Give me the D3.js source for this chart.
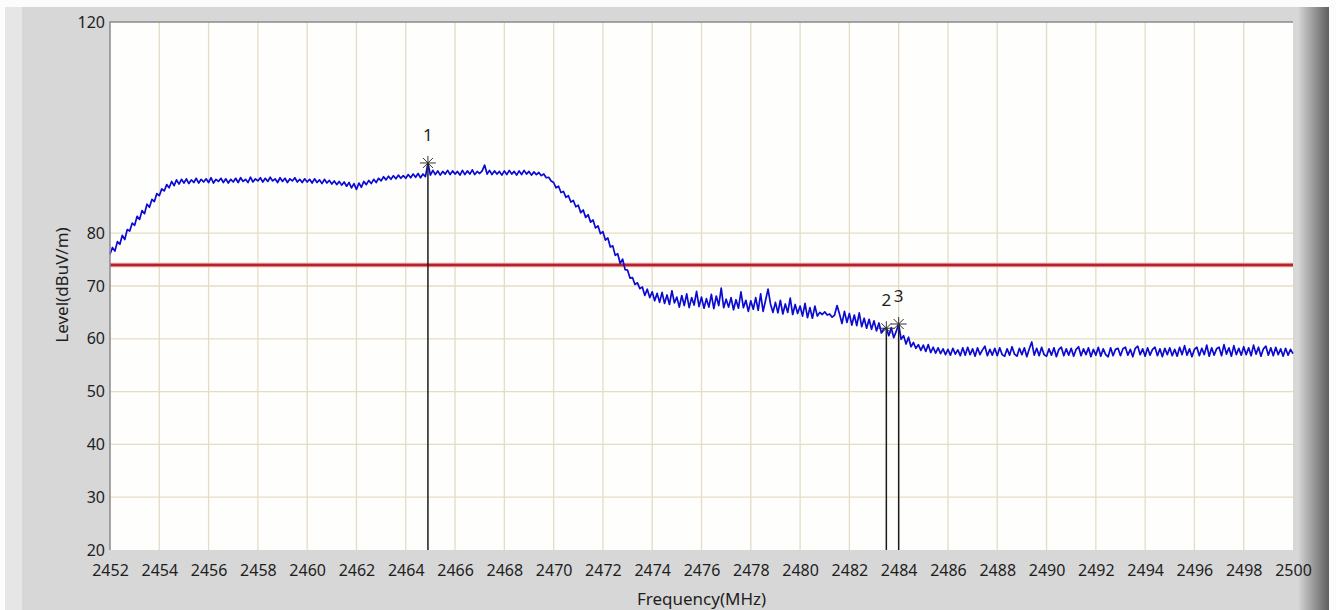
<!DOCTYPE html>
<html>
<head>
<meta charset="utf-8">
<script src="https://cdn.jsdelivr.net/npm/d3@7"></script>
<style>
  body { margin: 0; background: #fff; }
  svg { display: block; }
  text { font-family: "Noto Sans", "DejaVu Sans", sans-serif; fill: #1e1e1e; }
</style>
</head>
<body>
<div id="chart"></div>
<script>
// spectrum trace, one value every 0.1 MHz from 2452 to 2500
var freqStart = 2452, freqStep = 0.1;
var levels = [
  76.0, 77.3, 76.6, 78.4, 77.9, 79.6, 78.8, 80.7, 80.4, 81.9,
  81.5, 83.2, 82.6, 84.3, 83.7, 85.5, 84.9, 86.4, 86.0, 87.5,
  87.1, 88.4, 88.0, 89.2, 88.6, 89.8, 89.0, 90.1, 89.3, 90.2,
  89.5, 90.3, 89.4, 90.1, 89.6, 90.4, 89.5, 90.2, 89.7, 90.3,
  89.6, 90.5, 89.5, 90.2, 89.8, 90.4, 89.6, 90.3, 89.5, 90.2,
  89.7, 90.4, 89.6, 90.5, 89.8, 90.2, 89.6, 90.6, 89.7, 90.3,
  89.9, 90.5, 89.7, 90.4, 89.8, 90.6, 89.9, 90.3, 89.6, 90.5,
  89.8, 90.4, 89.6, 90.3, 89.9, 90.5, 89.7, 90.2, 89.6, 90.3,
  89.7, 90.2, 89.5, 90.3, 89.6, 90.1, 89.4, 90.2, 89.5, 90.0,
  89.3, 89.9, 89.2, 89.8, 89.1, 89.7, 88.9, 89.6, 88.6, 89.4,
  88.3, 89.5, 88.7, 89.8, 89.2, 90.0, 89.4, 90.2, 89.6, 90.4,
  89.9, 90.7, 90.1, 90.8, 90.2, 90.9, 90.3, 91.0, 90.4, 90.9,
  90.4, 91.1, 90.5, 91.2, 90.6, 91.3, 90.5, 91.2, 90.7, 93.3,
  91.0, 91.9, 91.1, 91.8, 91.0, 91.7, 91.2, 91.9, 91.1, 91.8,
  91.2, 91.7, 91.0, 91.9, 91.1, 91.8, 91.2, 92.0, 91.1, 91.7,
  91.3, 91.8, 92.9, 91.2, 91.9, 91.1, 91.8, 91.2, 91.7, 91.0,
  91.8, 91.1, 91.9, 91.2, 91.7, 91.0, 91.8, 91.1, 91.9, 91.2,
  91.7, 91.0, 91.6, 91.1, 91.5, 90.9, 91.2, 90.5, 90.6, 89.9,
  89.6, 88.6, 88.9, 87.7, 87.9, 86.8, 87.1, 85.9, 86.2, 85.0,
  85.3, 83.9, 84.4, 83.0, 83.5, 82.1, 82.5, 81.0, 81.4, 79.9,
  80.3, 78.7, 79.1, 77.4, 77.6, 75.8, 76.1, 74.3, 75.1, 73.1,
  73.0, 71.5, 71.6, 70.3, 70.6, 69.5, 69.8, 68.2, 69.4, 67.8,
  68.9, 67.2, 68.6, 66.9, 68.8, 66.7, 68.3, 66.5, 69.1, 66.8,
  67.9, 66.0, 68.2, 66.3, 68.5, 65.9, 67.8, 66.4, 69.0, 66.1,
  67.9, 65.8, 67.6, 66.0, 68.4, 65.7, 68.1, 66.3, 69.6, 65.9,
  67.5, 66.0, 67.8, 65.5, 67.4, 65.8, 68.9, 65.9, 67.3, 65.2,
  67.2, 65.6, 67.8, 65.4, 68.5, 65.2, 67.3, 69.4, 66.6, 65.0,
  66.9, 64.9, 67.3, 64.7, 66.6, 65.0, 67.7, 64.6, 66.5, 64.8,
  66.2, 64.3, 66.7, 64.0, 65.9, 63.9, 66.2, 64.3, 65.0, 64.6,
  65.1, 64.5, 64.7, 64.1, 64.5, 66.3, 64.7, 62.9, 65.2, 63.1,
  64.8, 62.6, 64.5, 62.5, 64.9, 62.3, 63.9, 62.0, 63.7, 61.8,
  63.4, 61.5, 63.0, 61.1, 61.9, 62.0, 60.6, 62.1, 60.2, 61.4,
  62.8, 59.9, 60.6, 59.0, 60.3, 58.5, 59.3, 58.2, 58.9, 57.8,
  58.8, 57.6, 58.9, 57.4, 58.4, 57.3, 58.3, 57.2, 58.1, 57.0,
  58.0, 56.9, 58.2, 57.1, 57.9, 56.8, 58.3, 56.9, 58.4, 57.0,
  58.1, 56.7, 58.3, 57.0, 57.9, 58.6, 56.8, 58.0, 56.9, 58.2,
  56.8, 58.3, 57.0, 56.7, 58.1, 56.9, 58.5, 57.1, 56.7, 58.2,
  57.0, 58.3, 56.6, 58.1, 59.4, 56.9, 58.2, 56.8, 58.4, 57.0,
  56.7, 58.1, 56.9, 58.3, 56.6, 58.0, 58.4, 56.8, 58.1, 56.9,
  58.2, 56.7, 58.0, 58.5, 56.8, 58.1, 57.0, 58.3, 56.6, 58.0,
  56.9, 58.4, 56.7, 58.1, 57.0, 56.6, 58.3, 56.8, 58.0, 58.2,
  56.8, 58.1, 58.4, 56.9, 58.0, 56.6, 58.2, 58.6, 57.0, 58.1,
  56.7, 58.3, 56.9, 58.0, 58.4, 56.8, 58.1, 56.6, 58.2, 57.0,
  58.3, 56.8, 58.0, 56.7, 58.4, 57.0, 58.7, 56.9, 58.1, 56.6,
  58.0, 58.4, 56.8, 58.2, 57.0, 58.8, 56.7, 58.3, 56.9, 58.1,
  58.4, 56.8, 58.9, 57.1, 58.3, 56.7, 58.7, 57.0, 58.2, 56.9,
  58.5, 57.0, 58.3, 56.8, 58.8, 57.1, 58.4, 56.7, 58.1, 58.6,
  56.9, 58.3, 56.8, 58.4, 57.0, 58.1, 56.7, 58.2, 56.9, 58.0,
  57.2
];

var limitLevel = 74;

var markerIds = ["1", "2", "3"];
var markerFreqs = [2464.9, 2483.5, 2484.0];
var markerLevels = [93.3, 62.0, 62.8];

var xTicks = [2452, 2454, 2456, 2458, 2460, 2462, 2464, 2466, 2468, 2470, 2472, 2474,
  2476, 2478, 2480, 2482, 2484, 2486, 2488, 2490, 2492, 2494, 2496, 2498, 2500];
var yTicks = [20, 30, 40, 50, 60, 70, 80, 120];
var yGrid = [30, 40, 50, 60, 70, 80];

var width = 1336, height = 610;
var plotLeft = 110, plotTop = 22, plotRight = 1293, plotBottom = 550;

var svg = d3.select('#chart')
  .append('svg')
  .attr('width', width)
  .attr('height', height);

var defs = svg.append('defs');
var edge = defs.append('linearGradient').attr('id', 'edge');
edge.append('stop').attr('offset', '0%').attr('stop-color', '#d6d6d6');
edge.append('stop').attr('offset', '100%').attr('stop-color', '#5e5e5e');

// window frame
svg.append('rect').attr('width', width).attr('height', height).attr('fill', '#fcfcfc');
svg.append('rect').attr('x', 5).attr('y', 7).attr('width', 1323).attr('height', 603).attr('fill', '#d7d7d7');
svg.append('rect').attr('x', 5).attr('y', 7).attr('width', 17).attr('height', 603).attr('fill', '#e6e6e6');
svg.append('rect').attr('x', 1298).attr('y', 7).attr('width', 31).attr('height', 603).attr('fill', 'url(#edge)');

var x = d3.scaleLinear().domain([2452, 2500]).range([plotLeft, plotRight]);
var y = d3.scaleLinear().domain([20, 120]).range([plotBottom, plotTop]);

var g = svg.append('g');

g.append('rect')
  .attr('x', plotLeft).attr('y', plotTop)
  .attr('width', plotRight - plotLeft).attr('height', plotBottom - plotTop)
  .attr('fill', '#fefefc');

// grid
g.selectAll('.vgrid')
  .data(xTicks.slice(1, -1))
  .enter()
  .append('line')
  .attr('x1', function(d){return x(d);})
  .attr('x2', function(d){return x(d);})
  .attr('y1', plotTop).attr('y2', plotBottom)
  .attr('stroke', '#e4dcc4')
  .attr('stroke-width', 1.3);

g.selectAll('.hgrid')
  .data(yGrid)
  .enter()
  .append('line')
  .attr('x1', plotLeft).attr('x2', plotRight)
  .attr('y1', function(d){return y(d);})
  .attr('y2', function(d){return y(d);})
  .attr('stroke', '#e4dcc4')
  .attr('stroke-width', 1.3);

// axes
var xAxis = d3.axisBottom(x).tickValues(xTicks).tickSize(0).tickPadding(15).tickFormat(d3.format('d'));
var yAxis = d3.axisLeft(y).tickValues(yTicks).tickSize(0).tickPadding(5);

var xg = svg.append('g').attr('transform', 'translate(0,' + plotBottom + ')').call(xAxis);
xg.select('.domain').remove();
xg.selectAll('text').style('font-size', '16px').attr('fill', '#1e1e1e');

var yg = svg.append('g').attr('transform', 'translate(' + plotLeft + ',0)').call(yAxis);
yg.select('.domain').remove();
yg.selectAll('text').style('font-size', '16px').attr('fill', '#1e1e1e');

// plot border (top and left)
svg.append('path')
  .attr('d', 'M' + plotLeft + ',' + plotBottom + 'V' + plotTop + 'H' + plotRight)
  .attr('fill', 'none')
  .attr('stroke', '#8a8a8a')
  .attr('stroke-width', 1.5);

svg.append('text')
  .attr('x', (plotLeft + plotRight) / 2)
  .attr('y', 605)
  .attr('text-anchor', 'middle')
  .style('font-size', '17px')
  .text('Frequency(MHz)');

svg.append('text')
  .attr('transform', 'translate(68,285) rotate(-90)')
  .attr('text-anchor', 'middle')
  .style('font-size', '17px')
  .text('Level(dBuV/m)');

// limit line
g.append('line')
  .attr('x1', plotLeft).attr('x2', plotRight)
  .attr('y1', y(limitLevel)).attr('y2', y(limitLevel))
  .attr('stroke', '#e9a0a0')
  .attr('stroke-width', 4.5);
g.append('line')
  .attr('x1', plotLeft).attr('x2', plotRight)
  .attr('y1', y(limitLevel)).attr('y2', y(limitLevel))
  .attr('stroke', '#b8202a')
  .attr('stroke-width', 2.5);

// trace
var line = d3.line()
  .x(function(d, i){return x(freqStart + i * freqStep);})
  .y(function(d){return y(d);});

g.append('path')
  .datum(levels)
  .attr('d', line)
  .attr('fill', 'none')
  .attr('stroke', '#0a0ad2')
  .attr('stroke-width', 1.7)
  .attr('stroke-linejoin', 'round');

// markers
var markers = markerIds.map(function(id, i){
  return {id: id, f: markerFreqs[i], v: markerLevels[i]};
});

var mk = g.selectAll('.marker')
  .data(markers)
  .enter()
  .append('g')
  .attr('transform', function(d){return 'translate(' + x(d.f) + ',' + y(d.v) + ')';});

mk.append('line')
  .attr('x1', 0).attr('x2', 0)
  .attr('y1', 0)
  .attr('y2', function(d){return plotBottom - y(d.v);})
  .attr('stroke', '#1a1a1a')
  .attr('stroke-width', 1.5);

mk.append('path')
  .attr('d', 'M-8,0H8M0,-7V7M-5,-5L5,5M-5,5L5,-5')
  .attr('stroke', '#333')
  .attr('stroke-width', 1)
  .attr('fill', 'none');

mk.append('text')
  .attr('x', 0)
  .attr('y', -22)
  .attr('text-anchor', 'middle')
  .style('font-size', '17px')
  .text(function(d){return d.id;});
</script>
</body>
</html>
